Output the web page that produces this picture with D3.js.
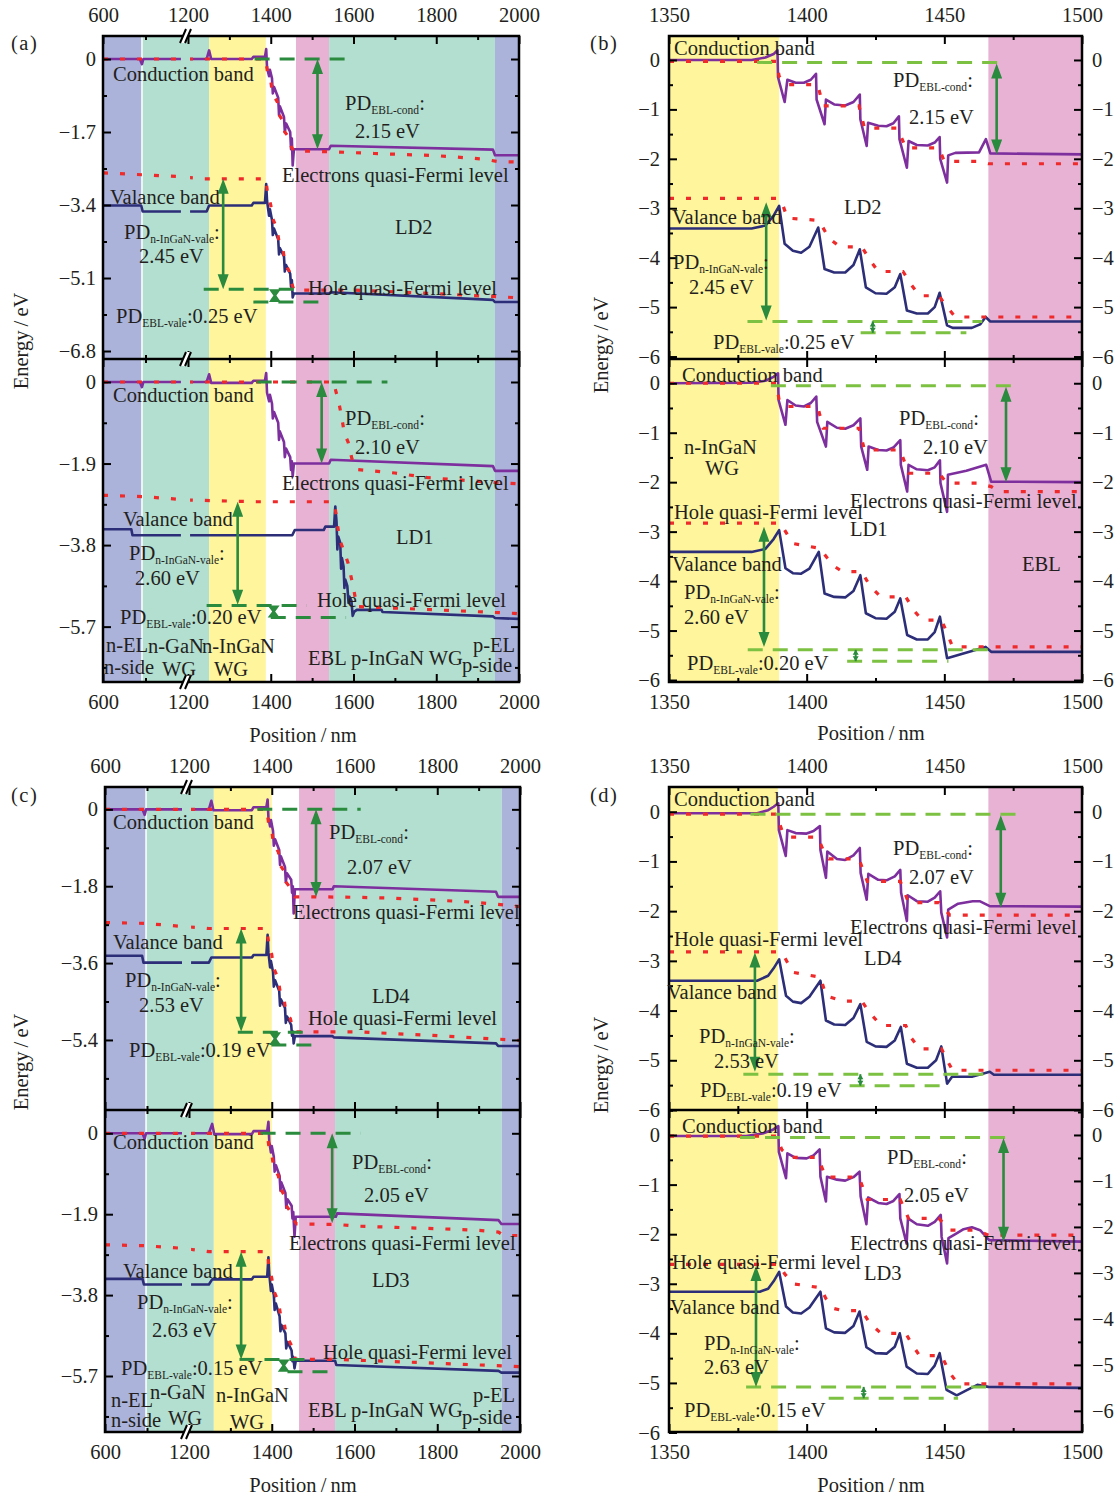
<!DOCTYPE html>
<html>
<head>
<meta charset="utf-8">
<script src="https://cdn.jsdelivr.net/npm/d3@7"></script>
<style>
body { margin: 0; background: #fff; }
svg text { font-family: "Liberation Serif", "DejaVu Serif", serif; fill: #231f20; }
</style>
</head>
<body>
<svg id="fig" width="1117" height="1499"></svg>
<script>
// ---------- tick labels ----------
var wideXTicks = [600, 1200, 1400, 1600, 1800, 2000];
var wideXMinor = [900, 1300, 1500, 1700, 1900];
var zoomXTicks = [1350, 1400, 1450, 1500];
var zoomXMinor = [1375, 1425, 1475];
var yTicksLD2 = [0, -1.7, -3.4, -5.1, -6.8];
var yTicksLD1 = [0, -1.9, -3.8, -5.7];
var yTicksLD4 = [0, -1.8, -3.6, -5.4];
var yTicksLD3 = [0, -1.9, -3.8, -5.7];
var zoomYTicks = [0, -1, -2, -3, -4, -5, -6];

// ---------- layer regions [type, from nm, to nm] ----------
var regionsA = [["EL",600,875],["WG",875,1251],["nWG",1251,1388],["EBL",1461,1541],["WG",1541,1942],["EL",1942,2000]];
var regionsC = [["EL",600,893],["WG",893,1260],["nWG",1260,1400],["EBL",1466,1553],["WG",1553,1956],["EL",1956,2000]];
var regionsB = [["nWG",1350,1390],["EBL",1466,1500]];
var regionsD = [["nWG",1350,1389.5],["EBL",1466,1500]];

// ---------- (a) LD2, 600-2000 nm  [position nm, energy eV] ----------
var wideLD2_cb = [[600,0],[860,0],[875,-0.12],[885,0],[1245,0],[1251,0.2],[1256,0],[1354,0],[1358,0.05],[1386,0.05],[1389,0.23],[1391,-0.2],[1396,-0.4],[1398,-0.25],[1403,-0.45],[1405,-0.8],[1408,-0.65],[1418,-0.9],[1420,-1.3],[1422,-1.1],[1432,-1.35],[1434,-1.7],[1437,-1.5],[1447,-1.7],[1449,-2.1],[1451,-1.85],[1453,-2.48],[1456,-2.1],[1541,-2.1],[1545,-2.02],[1937,-2.11],[1942,-2.24],[2000,-2.24]];
var wideLD2_efn = [[600,0],[1388,0],[1392,-0.3],[1400,-0.5],[1404,-0.8],[1416,-1.0],[1420,-1.3],[1430,-1.45],[1434,-1.7],[1446,-1.85],[1450,-2.05],[1456,-2.14],[1550,-2.16],[1650,-2.2],[1800,-2.25],[1915,-2.33],[1950,-2.39],[2000,-2.4]];
var wideLD2_vb = [[600,-3.41],[870,-3.41],[880,-3.55],[1245,-3.55],[1251,-3.41],[1354,-3.41],[1358,-3.35],[1386,-3.35],[1389,-2.91],[1391,-3.3],[1396,-3.65],[1398,-3.5],[1403,-3.75],[1405,-4.1],[1408,-3.95],[1418,-4.2],[1420,-4.55],[1422,-4.4],[1432,-4.6],[1434,-4.95],[1437,-4.8],[1447,-5.0],[1449,-5.3],[1451,-5.15],[1453,-5.55],[1456,-5.46],[1541,-5.46],[1545,-5.43],[1937,-5.61],[1942,-5.66],[2000,-5.66]];
var wideLD2_efp = [[600,-2.65],[1150,-2.74],[1236,-2.79],[1388,-2.79],[1392,-3.1],[1400,-3.4],[1404,-3.7],[1415,-3.95],[1420,-4.25],[1430,-4.45],[1434,-4.75],[1445,-4.95],[1450,-5.2],[1456,-5.38],[1600,-5.38],[1700,-5.42],[2000,-5.56]];
var pdLinesA1 = [[1361,1602,0],[1238,1478,-5.36],[1358,1534,-5.66]];
var pdArrowsA1 = [[1513,0,-2.1],[1285,-2.79,-5.36]];
var pdSmallA1 = [1410,-5.36,-5.66];

// ---------- (a) LD1 ----------
var wideLD1_cb = [[600,0],[860,0],[875,-0.12],[885,0],[1245,0],[1251,0.18],[1256,-0.02],[1354,-0.02],[1358,0.03],[1386,0.03],[1389,0.21],[1391,-0.25],[1396,-0.45],[1398,-0.3],[1403,-0.5],[1405,-0.85],[1408,-0.7],[1418,-0.95],[1420,-1.35],[1422,-1.15],[1432,-1.4],[1434,-1.75],[1437,-1.55],[1447,-1.75],[1449,-2.05],[1451,-1.85],[1453,-2.2],[1456,-1.9],[1541,-1.9],[1545,-1.81],[1937,-1.96],[1942,-2.07],[2000,-2.07]];
var wideLD1_efn = [[600,0],[1552,0],[1557,-0.2],[1565,-0.5],[1572,-0.85],[1578,-1.2],[1587,-1.4],[1596,-1.78],[1608,-2.04],[1700,-2.12],[1781,-2.23],[1954,-2.35],[2000,-2.37]];
var wideLD1_vb = [[600,-3.43],[800,-3.43],[808,-3.57],[1452,-3.57],[1458,-3.45],[1528,-3.45],[1532,-3.37],[1553,-3.37],[1556,-2.9],[1559,-3.25],[1561,-3.9],[1563,-3.6],[1568,-3.75],[1570,-4.35],[1572,-4.1],[1576,-4.3],[1578,-4.8],[1580,-4.6],[1585,-4.75],[1588,-5.15],[1590,-5.0],[1595,-5.1],[1598,-5.45],[1602,-5.35],[1608,-5.31],[1668,-5.31],[1670,-5.36],[1937,-5.46],[1942,-5.5],[2000,-5.52]];
var wideLD1_efp = [[600,-2.64],[880,-2.67],[1202,-2.75],[1366,-2.79],[1550,-2.79],[1556,-2.95],[1560,-3.26],[1567,-3.68],[1577,-3.95],[1587,-4.22],[1600,-4.8],[1608,-5.23],[1800,-5.31],[1988,-5.39],[2000,-5.4]];
var pdLinesA2 = [[1366,1682,0],[1245,1487,-5.21],[1400,1582,-5.49]];
var pdArrowsA2 = [[1523,0,-1.9],[1320,-2.79,-5.19]];
var pdSmallA2 = [1407,-5.21,-5.49];

// ---------- (c) LD4 ----------
var wideLD4_cb = [[600,0],[868,0],[883,-0.13],[893,0],[1248,0],[1254,0.2],[1259,-0.02],[1352,-0.02],[1356,0.05],[1387,0.05],[1390,0.23],[1392,-0.2],[1396,-0.4],[1398,-0.25],[1403,-0.5],[1405,-0.85],[1408,-0.7],[1418,-0.95],[1420,-1.3],[1422,-1.1],[1432,-1.35],[1434,-1.7],[1437,-1.5],[1447,-1.65],[1449,-1.95],[1451,-1.8],[1453,-2.44],[1456,-1.87],[1547,-1.87],[1550,-1.8],[1942,-1.93],[1947,-2.05],[2000,-2.05]];
var wideLD4_efn = [[600,0],[1388,0],[1392,-0.3],[1400,-0.5],[1404,-0.8],[1416,-1.0],[1420,-1.3],[1430,-1.45],[1434,-1.7],[1446,-1.85],[1450,-1.95],[1456,-2.05],[1520,-2.05],[1606,-2.06],[1693,-2.08],[1779,-2.12],[1865,-2.16],[1942,-2.22],[2000,-2.28]];
var wideLD4_vb = [[600,-3.43],[865,-3.43],[875,-3.59],[1248,-3.59],[1254,-3.47],[1352,-3.47],[1356,-3.41],[1387,-3.41],[1390,-2.94],[1392,-3.35],[1396,-3.7],[1398,-3.55],[1403,-3.8],[1405,-4.15],[1408,-4.0],[1418,-4.25],[1420,-4.6],[1422,-4.45],[1432,-4.65],[1434,-5.0],[1437,-4.85],[1447,-5.05],[1449,-5.3],[1451,-5.2],[1453,-5.48],[1456,-5.31],[1547,-5.31],[1550,-5.34],[1942,-5.48],[1947,-5.54],[2000,-5.54]];
var wideLD4_efp = [[600,-2.65],[880,-2.67],[1150,-2.74],[1248,-2.79],[1388,-2.79],[1392,-3.1],[1400,-3.4],[1404,-3.7],[1415,-3.95],[1420,-4.25],[1430,-4.45],[1434,-4.75],[1445,-4.9],[1450,-5.1],[1456,-5.21],[1606,-5.21],[1800,-5.3],[2000,-5.41]];
var pdLinesC1 = [[1365,1615,0],[1318,1494,-5.22],[1399,1508,-5.52]];
var pdArrowsC1 = [[1507,0,-2.05],[1326,-2.79,-5.21]];
var pdSmallC1 = [1408,-5.22,-5.52];

// ---------- (c) LD3 ----------
var wideLD3_cb = [[600,0],[868,0],[883,-0.13],[893,0],[1248,0],[1256,0.22],[1261,-0.02],[1352,-0.02],[1356,0.05],[1389,0.05],[1392,0.27],[1394,-0.2],[1398,-0.45],[1400,-0.3],[1405,-0.55],[1407,-0.9],[1410,-0.75],[1419,-1.0],[1421,-1.35],[1423,-1.15],[1433,-1.4],[1435,-1.75],[1438,-1.55],[1448,-1.7],[1450,-2.0],[1452,-1.85],[1455,-2.43],[1458,-1.96],[1555,-1.96],[1558,-1.88],[1948,-2.04],[1955,-2.13],[2000,-2.13]];
var wideLD3_efn = [[600,0],[1389,0],[1393,-0.3],[1400,-0.5],[1405,-0.8],[1416,-1.0],[1421,-1.3],[1430,-1.45],[1435,-1.7],[1446,-1.85],[1451,-2.0],[1460,-2.13],[1555,-2.14],[1606,-2.18],[1700,-2.21],[1800,-2.24],[1900,-2.28],[1948,-2.32],[1960,-2.4],[2000,-2.4]];
var wideLD3_vb = [[600,-3.42],[868,-3.42],[878,-3.55],[1248,-3.55],[1256,-3.43],[1352,-3.43],[1356,-3.37],[1389,-3.37],[1392,-2.91],[1394,-3.3],[1398,-3.7],[1400,-3.55],[1405,-3.8],[1407,-4.15],[1410,-4.0],[1419,-4.3],[1421,-4.65],[1423,-4.5],[1433,-4.7],[1435,-5.05],[1438,-4.9],[1448,-5.1],[1450,-5.35],[1452,-5.25],[1455,-5.52],[1458,-5.34],[1553,-5.34],[1556,-5.44],[1948,-5.58],[1955,-5.62],[2000,-5.62]];
var wideLD3_efp = [[600,-2.62],[880,-2.64],[1150,-2.7],[1248,-2.78],[1389,-2.78],[1393,-3.1],[1400,-3.4],[1405,-3.7],[1416,-3.95],[1421,-4.25],[1430,-4.45],[1435,-4.75],[1446,-4.95],[1451,-5.15],[1458,-5.31],[1560,-5.31],[1800,-5.4],[2000,-5.48]];
var pdLinesC2 = [[1373,1615,0],[1322,1503,-5.31],[1438,1555,-5.6]];
var pdArrowsC2 = [[1546,0,-2.11],[1326,-2.78,-5.31]];
var pdSmallC2 = [1429,-5.31,-5.6];

// ---------- (b) LD2, 1350-1500 nm ----------
var zoomLD2_cb = [[1350,0],[1380,0],[1385,0.05],[1388,0.12],[1389.4,0.2],[1389.6,-0.35],[1392,-0.85],[1393,-0.4],[1396,-0.46],[1399,-0.46],[1401.5,-0.4],[1403.4,-0.28],[1403.6,-0.8],[1406.5,-1.3],[1407,-0.8],[1410,-0.9],[1414,-0.92],[1417,-0.85],[1419.3,-0.7],[1419.5,-1.2],[1421.8,-1.74],[1422.3,-1.27],[1426,-1.33],[1429,-1.34],[1431.5,-1.28],[1433.5,-1.14],[1433.7,-1.6],[1436.4,-2.18],[1437,-1.64],[1440,-1.72],[1444,-1.73],[1446.5,-1.67],[1448.3,-1.56],[1448.5,-2.0],[1451,-2.48],[1451.4,-1.93],[1454,-1.88],[1462.6,-1.87],[1465.1,-1.6],[1466.7,-1.89],[1500,-1.91]];
var zoomLD2_efn = [[1350,-0.03],[1389,-0.03],[1390,-0.33],[1393,-0.5],[1404,-0.5],[1406,-0.93],[1419,-0.93],[1421,-1.38],[1433,-1.38],[1436,-1.78],[1448,-1.78],[1450,-2.05],[1462,-2.05],[1466,-2.1],[1500,-2.1]];
var zoomLD2_vb = [[1350,-3.41],[1380,-3.41],[1385,-3.35],[1388,-3.15],[1390,-2.95],[1392,-3.72],[1395,-3.86],[1398,-3.9],[1401,-3.78],[1404.2,-3.39],[1406.5,-4.23],[1410,-4.3],[1414,-4.3],[1417,-4.15],[1419.3,-3.83],[1421.5,-4.6],[1425,-4.72],[1429,-4.73],[1432,-4.6],[1434,-4.33],[1436.4,-5.07],[1440,-5.13],[1444,-5.13],[1446.5,-5.0],[1448.3,-4.71],[1451,-5.37],[1453,-5.42],[1460,-5.42],[1463,-5.35],[1465,-5.2],[1466.7,-5.29],[1500,-5.29]];
var zoomLD2_efp = [[1350,-2.8],[1389,-2.8],[1391,-2.88],[1393,-3.2],[1403,-3.24],[1405,-3.3],[1408,-3.6],[1412,-3.78],[1420,-3.78],[1423,-4.05],[1426,-4.28],[1435,-4.28],[1438,-4.55],[1441,-4.77],[1448,-4.77],[1451,-5.0],[1454,-5.2],[1500,-5.2]];
var pdLinesB1 = [[1382,1471,-0.05],[1378.5,1463.8,-5.29],[1419.6,1458,-5.52]];
var pdArrowsB1 = [[1469,-0.07,-1.91],[1385.3,-2.88,-5.27]];
var pdSmallB1 = [1424,-5.29,-5.52];

// ---------- (b) LD1 ----------
var zoomLD1_cb = [[1350,0],[1380,0.01],[1385,0.05],[1388,0.13],[1389.6,0.2],[1389.8,-0.34],[1392.3,-0.84],[1393,-0.34],[1396,-0.45],[1399,-0.47],[1401.5,-0.4],[1403.5,-0.27],[1403.8,-0.78],[1407,-1.28],[1407.5,-0.78],[1411,-0.9],[1414,-0.92],[1417,-0.85],[1419.5,-0.71],[1419.8,-1.28],[1422,-1.75],[1422.5,-1.28],[1426,-1.35],[1429,-1.36],[1431.5,-1.3],[1434,-1.15],[1434.2,-1.65],[1436.5,-2.19],[1437,-1.65],[1440,-1.74],[1444,-1.76],[1446.5,-1.7],[1448.4,-1.56],[1448.6,-2.02],[1451,-2.6],[1451.3,-1.85],[1458,-1.77],[1465.2,-1.65],[1467,-1.99],[1500,-2.0]];
var zoomLD1_efn = [[1350,0],[1389,0],[1390,-0.34],[1393,-0.47],[1404,-0.47],[1406,-0.91],[1419,-0.91],[1421,-1.35],[1434,-1.35],[1437,-1.82],[1448,-1.82],[1451,-2.02],[1462,-2.02],[1467,-2.09],[1470,-2.19],[1500,-2.19]];
var zoomLD1_vb = [[1350,-3.41],[1380,-3.41],[1385,-3.35],[1388,-3.15],[1390,-2.97],[1392.3,-3.74],[1395,-3.84],[1398,-3.85],[1401,-3.75],[1404.4,-3.41],[1406.5,-4.25],[1410,-4.32],[1414,-4.33],[1417,-4.2],[1419.5,-3.88],[1421.5,-4.65],[1425,-4.75],[1429,-4.76],[1432,-4.62],[1434,-4.35],[1436.5,-5.09],[1440,-5.18],[1444,-5.18],[1446.5,-5.03],[1448.4,-4.72],[1451,-5.56],[1465,-5.33],[1467,-5.43],[1500,-5.43]];
var zoomLD1_efp = [[1350,-2.83],[1390,-2.83],[1392,-2.97],[1395,-3.24],[1405,-3.34],[1407,-3.5],[1410,-3.7],[1413,-3.81],[1420,-3.81],[1423,-4.1],[1427,-4.32],[1436,-4.32],[1439,-4.6],[1442,-4.79],[1449,-4.79],[1451,-5.05],[1453,-5.33],[1500,-5.33]];
var pdLinesB2 = [[1387,1475.7,-0.05],[1378.6,1467,-5.39],[1414.7,1451.5,-5.62]];
var pdArrowsB2 = [[1472.4,-0.07,-2.0],[1384.5,-2.9,-5.33]];
var pdSmallB2 = [1417.8,-5.39,-5.62];

// ---------- (d) LD4 ----------
var zoomLD4_cb = [[1350,-0.03],[1382,-0.03],[1386,0.03],[1388,0.1],[1389.7,0.17],[1389.9,-0.37],[1392.4,-0.89],[1393,-0.37],[1396,-0.43],[1400,-0.44],[1402.5,-0.39],[1404.8,-0.29],[1405,-0.77],[1407,-1.33],[1407.5,-0.8],[1411,-0.95],[1414,-0.97],[1417,-0.88],[1419.3,-0.73],[1419.6,-1.23],[1421.8,-1.77],[1422.4,-1.25],[1426,-1.37],[1429,-1.38],[1432,-1.3],[1434,-1.17],[1434.3,-1.63],[1436.4,-2.2],[1436.7,-1.68],[1440,-1.8],[1444,-1.81],[1446.5,-1.73],[1448.5,-1.6],[1448.9,-2.03],[1451,-2.53],[1451.4,-1.97],[1455,-1.85],[1460.3,-1.8],[1462.8,-1.8],[1466.5,-1.9],[1500,-1.91]];
var zoomLD4_efn = [[1350,-0.05],[1389,-0.05],[1391,-0.37],[1394,-0.51],[1404,-0.51],[1406,-0.77],[1408,-0.95],[1419,-0.95],[1422,-1.4],[1434,-1.4],[1437,-1.83],[1448,-1.83],[1452,-2.08],[1500,-2.08]];
var zoomLD4_vb = [[1350,-3.4],[1382,-3.4],[1386,-3.3],[1388,-3.15],[1390,-2.97],[1392.5,-3.7],[1395,-3.82],[1398,-3.85],[1401,-3.72],[1405,-3.4],[1407,-4.2],[1410,-4.28],[1414,-4.29],[1417,-4.15],[1419.5,-3.87],[1421.8,-4.63],[1425,-4.72],[1429,-4.73],[1432,-4.6],[1434.2,-4.33],[1436.4,-5.07],[1440,-5.15],[1444,-5.15],[1447,-5.0],[1448.9,-4.72],[1451,-5.47],[1452.8,-5.33],[1460,-5.33],[1466.5,-5.23],[1468,-5.29],[1500,-5.29]];
var zoomLD4_efp = [[1350,-2.82],[1390,-2.82],[1392,-2.93],[1395,-3.23],[1405,-3.33],[1407,-3.7],[1413,-3.81],[1420,-3.81],[1423,-4.05],[1427,-4.3],[1436,-4.3],[1438,-4.55],[1441,-4.77],[1449,-4.77],[1451,-5.0],[1453,-5.2],[1500,-5.2]];
var pdLinesD1 = [[1379.6,1479,-0.05],[1377,1466.5,-5.28],[1415.6,1451.6,-5.51]];
var pdArrowsD1 = [[1470.5,-0.07,-1.93],[1381.2,-2.83,-5.23]];
var pdSmallD1 = [1419.5,-5.28,-5.51];

// ---------- (d) LD3 ----------
var zoomLD3_cb = [[1350,-0.02],[1378,-0.02],[1384,0.03],[1387.5,0.1],[1389.7,0.18],[1389.9,-0.34],[1392.5,-0.87],[1393,-0.37],[1396,-0.46],[1400,-0.47],[1402.5,-0.41],[1404.7,-0.29],[1405,-0.84],[1407,-1.34],[1407.4,-0.84],[1411,-0.9],[1414,-0.92],[1417,-0.85],[1419.2,-0.74],[1419.6,-1.24],[1421.7,-1.8],[1422.3,-1.26],[1426,-1.37],[1429,-1.39],[1431.5,-1.33],[1433.7,-1.19],[1434,-1.68],[1436.3,-2.19],[1436.8,-1.68],[1440,-1.8],[1444,-1.83],[1446.5,-1.75],[1448.7,-1.61],[1449,-2.05],[1451,-2.59],[1451.5,-2.08],[1454,-2.0],[1457,-1.9],[1460,-1.86],[1463,-1.92],[1466.3,-2.12],[1500,-2.15]];
var zoomLD3_efn = [[1350,-0.02],[1389,-0.02],[1391,-0.3],[1394,-0.45],[1404,-0.45],[1407,-0.85],[1419,-0.85],[1422,-1.3],[1434,-1.3],[1437,-1.68],[1448,-1.68],[1452,-1.92],[1462,-1.92],[1466,-2.02],[1500,-2.02]];
var zoomLD3_vb = [[1350,-3.16],[1383,-3.16],[1386,-3.1],[1388,-2.95],[1390,-2.76],[1392.5,-3.46],[1395,-3.58],[1398,-3.6],[1401,-3.48],[1405,-3.16],[1407,-3.9],[1410,-3.98],[1414,-3.99],[1417,-3.85],[1419.2,-3.56],[1421.7,-4.28],[1425,-4.4],[1429,-4.41],[1432,-4.27],[1433.8,-4.0],[1436.3,-4.67],[1440,-4.81],[1444,-4.82],[1446.5,-4.65],[1448.3,-4.4],[1450.8,-5.14],[1454.5,-5.25],[1458,-5.15],[1462,-5.04],[1466,-5.08],[1500,-5.1]];
var zoomLD3_efp = [[1350,-2.61],[1390,-2.61],[1392,-2.8],[1395,-3.0],[1405,-3.08],[1407,-3.3],[1410,-3.5],[1413,-3.54],[1420,-3.54],[1423,-3.8],[1427,-4.0],[1436,-4.0],[1438,-4.2],[1441,-4.45],[1449,-4.45],[1452,-4.8],[1455,-5.02],[1500,-5.02]];
var pdLinesD2 = [[1375.8,1475,-0.05],[1378,1466.3,-5.08],[1408,1455,-5.31]];
var pdArrowsD2 = [[1471.5,-0.06,-2.15],[1381.6,-2.64,-5.08]];
var pdSmallD2 = [1420.7,-5.08,-5.31];

// ---------- text annotations [left x, centre y, text] ----------
var notesA1 = [[113,74,"Conduction band"],[345,103,"PD_{EBL-cond}:"],[355,131,"2.15 eV"],[282,175,"Electrons quasi-Fermi level"],[110,197,"Valance band"],[395,227,"LD2"],[124,232,"PD_{n-InGaN-vale}:"],[139,256,"2.45 eV"],[308,288,"Hole quasi-Fermi level"],[116,316,"PD_{EBL-vale}:0.25 eV"]];
var notesA2 = [[113,395,"Conduction band"],[345,418,"PD_{EBL-cond}:"],[355,447,"2.10 eV"],[282,483,"Electrons quasi-Fermi level"],[123,519,"Valance band"],[396,537,"LD1"],[129,553,"PD_{n-InGaN-vale}:"],[135,578,"2.60 eV"],[317,600,"Hole quasi-Fermi level"],[120,617,"PD_{EBL-vale}:0.20 eV"],
  [106,645,"n-EL"],[148,646,"n-GaN"],[202,646,"n-InGaN"],[104,667,"n-side"],[162,669,"WG"],[214,669,"WG"],[308,658,"EBL p-InGaN WG"],[473,645,"p-EL"],[462,665,"p-side"]];
var notesC1 = [[113,822,"Conduction band"],[329,832,"PD_{EBL-cond}:"],[347,867,"2.07 eV"],[293,912,"Electrons quasi-Fermi level"],[113,942,"Valance band"],[125,980,"PD_{n-InGaN-vale}:"],[139,1005,"2.53 eV"],[372,996,"LD4"],[308,1018,"Hole quasi-Fermi level"],[129,1050,"PD_{EBL-vale}:0.19 eV"]];
var notesC2 = [[113,1142,"Conduction band"],[352,1162,"PD_{EBL-cond}:"],[364,1195,"2.05 eV"],[289,1243,"Electrons quasi-Fermi level"],[123,1271,"Valance band"],[372,1280,"LD3"],[137,1302,"PD_{n-InGaN-vale}:"],[152,1330,"2.63 eV"],[323,1352,"Hole quasi-Fermi level"],[121,1368,"PD_{EBL-vale}:0.15 eV"],
  [111,1400,"n-EL"],[150,1392,"n-GaN"],[111,1420,"n-side"],[168,1418,"WG"],[216,1395,"n-InGaN"],[230,1422,"WG"],[308,1410,"EBL p-InGaN WG"],[473,1395,"p-EL"],[462,1417,"p-side"]];
var notesB1 = [[674,48,"Conduction band"],[893,80,"PD_{EBL-cond}:"],[909,117,"2.15 eV"],[844,207,"LD2"],[672,217,"Valance band"],[673,262,"PD_{n-InGaN-vale}:"],[689,287,"2.45 eV"],[713,342,"PD_{EBL-vale}:0.25 eV"]];
var notesB2 = [[682,375,"Conduction band"],[684,447,"n-InGaN"],[705,468,"WG"],[899,418,"PD_{EBL-cond}:"],[923,447,"2.10 eV"],[850,501,"Electrons quasi-Fermi level"],[674,512,"Hole quasi-Fermi level"],[850,529,"LD1"],[672,564,"Valance band"],[1022,564,"EBL"],[684,592,"PD_{n-InGaN-vale}:"],[684,617,"2.60 eV"],[687,663,"PD_{EBL-vale}:0.20 eV"]];
var notesD1 = [[674,799,"Conduction band"],[893,848,"PD_{EBL-cond}:"],[909,877,"2.07 eV"],[850,927,"Electrons quasi-Fermi level"],[674,939,"Hole quasi-Fermi level"],[864,958,"LD4"],[667,992,"Valance band"],[699,1036,"PD_{n-InGaN-vale}:"],[714,1061,"2.53 eV"],[700,1090,"PD_{EBL-vale}:0.19 eV"]];
var notesD2 = [[682,1126,"Conduction band"],[887,1157,"PD_{EBL-cond}:"],[904,1195,"2.05 eV"],[850,1243,"Electrons quasi-Fermi level"],[672,1262,"Hole quasi-Fermi level"],[864,1273,"LD3"],[670,1307,"Valance band"],[704,1343,"PD_{n-InGaN-vale}:"],[704,1367,"2.63 eV"],[684,1410,"PD_{EBL-vale}:0.15 eV"]];

// ---------- styles ----------
var regionColor = {EL: "#abb3db", WG: "#b3dfd1", nWG: "#fef59c", EBL: "#e7b2d4"};
var cbColor = "#7d2f9e", vbColor = "#2c2e78", qfColor = "#ee2a2a";
var darkGreen = "#2a8a3d", lightGreen = "#7dc142";
var FS = 20.5;

// ---------- layout ----------
var panels = [
  {name: "(a)", wide: true, xDom: [600,1200,2000], xRange: [103,188,519], top: 36, mid: 359, bottom: 682,
   regions: regionsA, letter: [11,43], xTitle: [303,735], yTitle: [21,341],
   subs: [
     {dom: [0.536,-6.986], ticks: yTicksLD2, cb: wideLD2_cb, vb: wideLD2_vb, efn: wideLD2_efn, efp: wideLD2_efp, lines: pdLinesA1, arrows: pdArrowsA1, small: pdSmallA1, notes: notesA1},
     {dom: [0.536,-6.99], ticks: yTicksLD1, cb: wideLD1_cb, vb: wideLD1_vb, efn: wideLD1_efn, efp: wideLD1_efp, lines: pdLinesA2, arrows: pdArrowsA2, small: pdSmallA2, notes: notesA2}]},
  {name: "(b)", wide: false, xDom: [1350,1500], xRange: [669,1082], top: 36, mid: 359, bottom: 682,
   regions: regionsB, letter: [590,43], xTitle: [871,733], yTitle: [601,345],
   subs: [
     {dom: [0.485,-6.05], ticks: zoomYTicks, cb: zoomLD2_cb, vb: zoomLD2_vb, efn: zoomLD2_efn, efp: zoomLD2_efp, lines: pdLinesB1, arrows: pdArrowsB1, small: pdSmallB1, notes: notesB1},
     {dom: [0.49,-6.04], ticks: zoomYTicks, cb: zoomLD1_cb, vb: zoomLD1_vb, efn: zoomLD1_efn, efp: zoomLD1_efp, lines: pdLinesB2, arrows: pdArrowsB2, small: pdSmallB2, notes: notesB2}]},
  {name: "(c)", wide: true, xDom: [600,1200,2000], xRange: [105,189,520], top: 787, mid: 1110, bottom: 1432,
   regions: regionsC, letter: [11,795], xTitle: [303,1485], yTitle: [21,1062],
   subs: [
     {dom: [0.523,-7.04], ticks: yTicksLD4, cb: wideLD4_cb, vb: wideLD4_vb, efn: wideLD4_efn, efp: wideLD4_efp, lines: pdLinesC1, arrows: pdArrowsC1, small: pdSmallC1, notes: notesC1},
     {dom: [0.547,-7.015], ticks: yTicksLD3, cb: wideLD3_cb, vb: wideLD3_vb, efn: wideLD3_efn, efp: wideLD3_efp, lines: pdLinesC2, arrows: pdArrowsC2, small: pdSmallC2, notes: notesC2}]},
  {name: "(d)", wide: false, xDom: [1350,1500], xRange: [669,1082], top: 787, mid: 1110, bottom: 1432,
   regions: regionsD, letter: [590,795], xTitle: [871,1485], yTitle: [601,1065],
   subs: [
     {dom: [0.497,-6.0], ticks: zoomYTicks, cb: zoomLD4_cb, vb: zoomLD4_vb, efn: zoomLD4_efn, efp: zoomLD4_efp, lines: pdLinesD1, arrows: pdArrowsD1, small: pdSmallD1, notes: notesD1},
     {dom: [0.505,-5.99], rightDom: [0.543,-6.46], ticks: zoomYTicks, cb: zoomLD3_cb, vb: zoomLD3_vb, efn: zoomLD3_efn, efp: zoomLD3_efp, lines: pdLinesD2, arrows: pdArrowsD2, small: pdSmallD2, notes: notesD2}]}
];

var svg = d3.select("#fig");
var defs = svg.append("defs");
var clipCount = 0;

function fmtE(d) { return d === 0 ? "0" : (d < 0 ? "\u2212" : "") + Math.abs(d); }

function minorTicks(ticks, dom) {
  var step = Math.abs(ticks[0] - ticks[1]) / 2, out = [];
  var lo = Math.min(dom[0], dom[1]), hi = Math.max(dom[0], dom[1]);
  for (var k = Math.ceil(lo / step - 1e-6); k * step <= hi + 1e-9; k++) {
    var v = +(k * step).toFixed(4);
    if (!ticks.some(function(t) { return Math.abs(t - v) < 1e-6; })) out.push(v);
  }
  return out;
}

function styleAxis(g) {
  g.select(".domain").remove();
  g.attr("font-family", null).attr("font-size", null);
  g.selectAll(".tick line").attr("stroke", "#000").attr("stroke-width", 2);
  g.selectAll(".tick text").attr("font-size", FS).attr("fill", "#231f20");
}

function rich(g, x, cy, str) {
  var t = g.append("text").attr("x", x).attr("y", cy + 7).attr("font-size", FS);
  var parts = str.split(/(_\{[^}]*\})/).filter(function(s) { return s.length; });
  var sub = false;
  parts.forEach(function(s) {
    if (s.indexOf("_{") === 0) {
      t.append("tspan").attr("font-size", 11.5).attr("dy", sub ? 0 : 4).text(s.slice(2, -1));
      sub = true;
    } else {
      t.append("tspan").attr("dy", sub ? -4 : 0).text(s);
      sub = false;
    }
  });
}

function bigArrow(g, xp, ya, yb) {
  var hl = 15, hw = 5.5;
  g.append("line").attr("x1", xp).attr("x2", xp).attr("y1", ya + hl - 2).attr("y2", yb - hl + 2)
    .attr("stroke", darkGreen).attr("stroke-width", 2.6);
  g.append("path").attr("fill", darkGreen)
    .attr("d", "M" + xp + "," + ya + "L" + (xp - hw) + "," + (ya + hl) + "L" + (xp + hw) + "," + (ya + hl) + "Z" +
               "M" + xp + "," + yb + "L" + (xp - hw) + "," + (yb - hl) + "L" + (xp + hw) + "," + (yb - hl) + "Z");
}

function smallArrow(g, xp, ya, yb, wide) {
  var m = (ya + yb) / 2;
  if (wide) {
    g.append("path").attr("fill", darkGreen)
      .attr("d", "M" + (xp - 6) + "," + ya + "L" + (xp + 6) + "," + ya + "L" + (xp + 1.5) + "," + m + "L" + (xp - 1.5) + "," + m + "Z" +
                 "M" + (xp - 6) + "," + yb + "L" + (xp + 6) + "," + yb + "L" + (xp + 1.5) + "," + m + "L" + (xp - 1.5) + "," + m + "Z");
  } else {
    g.append("line").attr("x1", xp).attr("x2", xp).attr("y1", ya).attr("y2", yb)
      .attr("stroke", darkGreen).attr("stroke-width", 2);
    g.append("path").attr("fill", darkGreen)
      .attr("d", "M" + xp + "," + ya + "L" + (xp - 3) + "," + (ya + 5) + "L" + (xp + 3) + "," + (ya + 5) + "Z" +
                 "M" + xp + "," + yb + "L" + (xp - 3) + "," + (yb - 5) + "L" + (xp + 3) + "," + (yb - 5) + "Z");
  }
}

function drawPanel(p) {
  var x = d3.scaleLinear().domain(p.xDom).range(p.xRange);
  var x0 = p.xRange[0], x1 = p.xRange[p.xRange.length - 1];
  var g = svg.append("g");

  // layer backgrounds
  g.selectAll("rect.reg").data(p.regions).join("rect").attr("class", "reg")
    .attr("x", function(d) { return x(d[1]); })
    .attr("width", function(d) { return x(d[2]) - x(d[1]); })
    .attr("y", p.top).attr("height", p.bottom - p.top)
    .attr("fill", function(d) { return regionColor[d[0]]; });
  if (p.wide) {
    // thin white seam between n-EL and n-GaN
    g.append("line").attr("x1", x(p.regions[0][2])).attr("x2", x(p.regions[0][2]))
      .attr("y1", p.top).attr("y2", p.bottom).attr("stroke", "#fff").attr("stroke-width", 1.5);
  }

  var spans = [[p.top, p.mid], [p.mid, p.bottom]];
  var gap = p.wide ? [1150, 1205] : null;
  var ann = svg.append("g");

  p.subs.forEach(function(s, i) {
    var ya = spans[i][0], yb = spans[i][1];
    var y = d3.scaleLinear().domain(s.dom).range([ya, yb]);

    var id = "clip" + (clipCount++);
    var cp = defs.append("clipPath").attr("id", id);
    if (gap) {
      cp.append("rect").attr("x", x0).attr("y", ya).attr("width", x(gap[0]) - x0).attr("height", yb - ya);
      cp.append("rect").attr("x", x(gap[1])).attr("y", ya).attr("width", x1 - x(gap[1])).attr("height", yb - ya);
    } else {
      cp.append("rect").attr("x", x0).attr("y", ya).attr("width", x1 - x0).attr("height", yb - ya);
    }

    var line = d3.line().x(function(d) { return x(d[0]); }).y(function(d) { return y(d[1]); });
    var lg = g.append("g").attr("clip-path", "url(#" + id + ")");
    lg.append("path").datum(s.cb).attr("d", line).attr("fill", "none").attr("stroke", cbColor).attr("stroke-width", 2.6).attr("stroke-linejoin", "round");
    lg.append("path").datum(s.vb).attr("d", line).attr("fill", "none").attr("stroke", vbColor).attr("stroke-width", 2.6).attr("stroke-linejoin", "round");
    [s.efn, s.efp].forEach(function(q) {
      lg.append("path").datum(q).attr("d", line).attr("fill", "none").attr("stroke", qfColor)
        .attr("stroke-width", 3.2).attr("stroke-dasharray", "5,12");
    });

    // potential-difference markers
    var dashCol = p.wide ? darkGreen : lightGreen;
    g.selectAll(null).data(s.lines).join("line")
      .attr("x1", function(d) { return x(d[0]); }).attr("x2", function(d) { return x(d[1]); })
      .attr("y1", function(d) { return y(d[2]); }).attr("y2", function(d) { return y(d[2]); })
      .attr("stroke", dashCol).attr("stroke-width", 3).attr("stroke-dasharray", "15,10");
    s.arrows.forEach(function(a) { bigArrow(g, x(a[0]), y(a[1]), y(a[2])); });
    smallArrow(g, x(s.small[0]), y(s.small[1]), y(s.small[2]), p.wide);

    // y axes
    var minor = minorTicks(s.ticks, s.dom);
    var gl = g.append("g").attr("transform", "translate(" + x0 + ",0)")
      .call(d3.axisLeft(y).tickValues(s.ticks).tickSize(-8).tickPadding(p.wide ? 7 : 9).tickFormat(fmtE));
    styleAxis(gl);
    var glm = g.append("g").attr("transform", "translate(" + x0 + ",0)")
      .call(d3.axisLeft(y).tickValues(minor).tickSize(-4).tickFormat(""));
    styleAxis(glm);
    var yr = s.rightDom ? d3.scaleLinear().domain(s.rightDom).range([ya, yb]) : y;
    var minorR = minorTicks(s.ticks, s.rightDom || s.dom);
    var gr = g.append("g").attr("transform", "translate(" + x1 + ",0)")
      .call(d3.axisRight(yr).tickValues(s.ticks.filter(function(t) { return yr(t) <= yb + 0.5; }))
        .tickSize(-8).tickPadding(10).tickFormat(p.wide ? "" : fmtE));
    styleAxis(gr);
    var grm = g.append("g").attr("transform", "translate(" + x1 + ",0)")
      .call(d3.axisRight(yr).tickValues(minorR).tickSize(-4).tickFormat(""));
    styleAxis(grm);

    s.notes.forEach(function(n) { rich(ann, n[0], n[1], n[2]); });
  });

  // x axes
  var xt = p.wide ? wideXTicks : zoomXTicks, xm = p.wide ? wideXMinor : zoomXMinor;
  var xf = function(d) { return d; };
  [[p.top, d3.axisTop, 14, xf], [p.bottom, d3.axisBottom, 12, xf], [p.mid, d3.axisTop, 0, ""], [p.mid, d3.axisBottom, 0, ""]].forEach(function(a) {
    var ga = g.append("g").attr("transform", "translate(0," + a[0] + ")")
      .call(a[1](x).tickValues(xt).tickSize(-8).tickPadding(a[2]).tickFormat(a[3]));
    styleAxis(ga);
    var gm = g.append("g").attr("transform", "translate(0," + a[0] + ")")
      .call(a[1](x).tickValues(xm).tickSize(-4).tickFormat(""));
    styleAxis(gm);
  });

  // frame
  g.append("rect").attr("x", x0).attr("y", p.top).attr("width", x1 - x0).attr("height", p.bottom - p.top)
    .attr("fill", "none").attr("stroke", "#000").attr("stroke-width", 2.5);
  g.append("line").attr("x1", x0).attr("x2", x1).attr("y1", p.mid).attr("y2", p.mid)
    .attr("stroke", "#000").attr("stroke-width", 2.5);

  // axis break marks
  if (p.wide) {
    var bx = x(1200) - 2;
    [p.top, p.mid, p.bottom].forEach(function(yy) {
      g.append("path").attr("fill", "#fff")
        .attr("d", "M" + (bx - 6) + "," + (yy + 7) + "L" + bx + "," + (yy - 7) + "L" + (bx + 5) + "," + (yy - 7) + "L" + (bx - 1) + "," + (yy + 7) + "Z");
      g.append("path").attr("fill", "none").attr("stroke", "#000").attr("stroke-width", 2)
        .attr("d", "M" + (bx - 6) + "," + (yy + 7) + "L" + bx + "," + (yy - 7) + "M" + (bx - 1) + "," + (yy + 7) + "L" + (bx + 5) + "," + (yy - 7));
    });
  }

  // titles
  svg.append("text").attr("x", p.letter[0]).attr("y", p.letter[1] + 7).attr("font-size", FS)
    .attr("letter-spacing", 1.5).text(p.name);
  svg.append("text").attr("x", p.xTitle[0]).attr("y", p.xTitle[1] + 7).attr("font-size", FS)
    .attr("text-anchor", "middle").text("Position\u2009/\u2009nm");
  svg.append("text").attr("transform", "translate(" + (p.yTitle[0] + 7) + "," + p.yTitle[1] + ") rotate(-90)")
    .attr("font-size", FS).attr("text-anchor", "middle").text("Energy\u2009/\u2009eV");
}

panels.forEach(drawPanel);
</script>
</body>
</html>
